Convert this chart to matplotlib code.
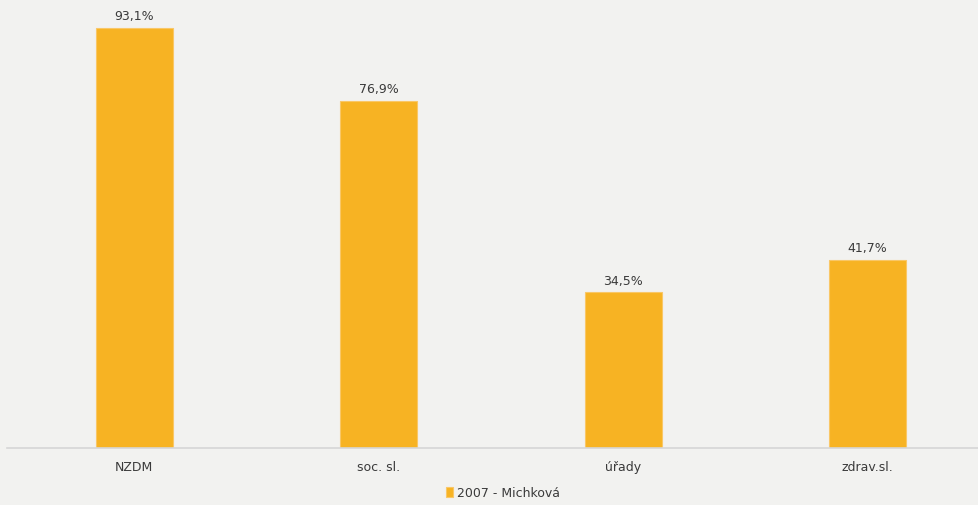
import numpy as np
import matplotlib.pyplot as plt

categories = ['NZDM', 'soc. sl.', 'úřady', 'zdrav.sl.']
values = [93.1, 76.9, 34.5, 41.7]
labels = ['93,1%', '76,9%', '34,5%', '41,7%']
series_name = '2007 - Michková'

bg = '#f2f2f0'
bar_color = '#f7b323'
text_color = '#3a3a3a'

fig = plt.figure(figsize=(9.79, 5.06), dpi=100)
fig.patch.set_facecolor(bg)
# axes roughly spanning the plotting area of the original
ax = fig.add_axes([7 / 979, 57 / 506, 983 / 979, 449 / 506])
ax.set_facecolor(bg)

x = np.arange(len(categories))
bars = ax.bar(x, values, width=0.315, color=bar_color, edgecolor='#f9c767',
              linewidth=0.8, label=series_name, zorder=2)

for rect, lab in zip(bars, labels):
    ax.annotate(lab, xy=(rect.get_x() + rect.get_width() / 2, rect.get_height()),
                xytext=(0, 4), textcoords='offset points', ha='center', va='bottom',
                fontsize=9, color=text_color)

ax.set_xlim(-0.52, 3.5)
ax.set_ylim(0, 99.5)
ax.set_xticks(x)
ax.set_xticklabels(categories, fontsize=9, color=text_color)
ax.tick_params(axis='x', length=0, pad=9)
ax.set_yticks([])
for s in ['top', 'right', 'left']:
    ax.spines[s].set_visible(False)
ax.spines['bottom'].set_color('#d6d6d6')
ax.spines['bottom'].set_linewidth(1.2)

fig.legend(handles=[bars], labels=[series_name], loc='center', bbox_to_anchor=(503 / 979, 1 - 494 / 506),
           frameon=False, fontsize=9, handlelength=0.6, handleheight=0.9, handletextpad=0.3,
           labelcolor=text_color)

plt.savefig('out.png', dpi=100, facecolor=bg)
